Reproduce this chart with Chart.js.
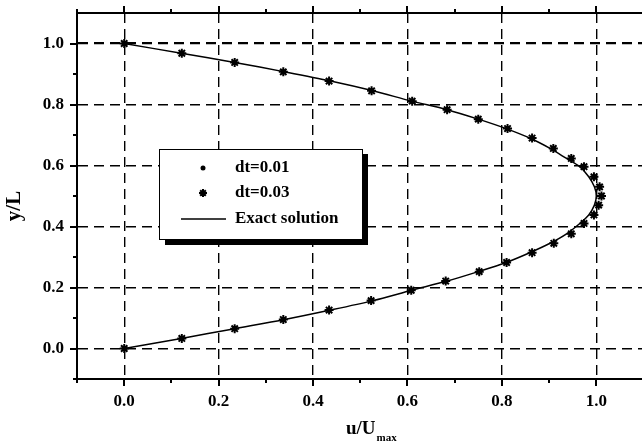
<!DOCTYPE html>
<html>
<head>
<meta charset="utf-8">
<script src="https://cdn.jsdelivr.net/npm/chart.js@4"></script>
<style>
  html, body { margin: 0; padding: 0; background: #fff; overflow: hidden; }
  #wrap { width: 650px; height: 442px; }
</style>
</head>
<body>
<div id="wrap"><canvas id="myChart" width="650" height="442"></canvas></div>
<script>
// values: y/L positions and u/Umax of the markers
const yPos = [0.0, 0.033, 0.065, 0.095, 0.126, 0.157, 0.191, 0.221, 0.252, 0.282,
  0.314, 0.345, 0.376, 0.41, 0.438, 0.47, 0.5, 0.53, 0.563, 0.596, 0.623, 0.656,
  0.69, 0.721, 0.752, 0.783, 0.811, 0.845, 0.877, 0.907, 0.938, 0.968, 1.0];
const uDt001 = [0.0, 0.122, 0.234, 0.337, 0.434, 0.523, 0.608, 0.681, 0.751, 0.81,
  0.864, 0.909, 0.946, 0.974, 0.995, 1.005, 1.01, 1.007, 0.995, 0.974, 0.947, 0.909,
  0.864, 0.812, 0.75, 0.684, 0.61, 0.524, 0.434, 0.337, 0.234, 0.122, 0.0];
const uDt003 = [0.0, 0.122, 0.234, 0.337, 0.434, 0.523, 0.608, 0.681, 0.752, 0.81,
  0.864, 0.91, 0.947, 0.974, 0.995, 1.005, 1.011, 1.007, 0.995, 0.974, 0.947, 0.909,
  0.864, 0.812, 0.75, 0.684, 0.61, 0.524, 0.434, 0.337, 0.234, 0.122, 0.0];
const uExact = [0.0, 0.121, 0.234, 0.34, 0.437, 0.527, 0.609, 0.684, 0.75, 0.809,
  0.859, 0.902, 0.937, 0.965, 0.984, 0.996, 1.0, 0.996, 0.984, 0.965, 0.937, 0.902,
  0.859, 0.809, 0.75, 0.684, 0.609, 0.527, 0.437, 0.34, 0.234, 0.121, 0.0];
const xTicks = [0.0, 0.2, 0.4, 0.6, 0.8, 1.0];
const yTicks = [0.0, 0.2, 0.4, 0.6, 0.8, 1.0];
const xMinor = [-0.1, 0.1, 0.3, 0.5, 0.7, 0.9, 1.1];
const yMinor = [-0.1, 0.1, 0.3, 0.5, 0.7, 0.9];
const seriesLabels = ["dt=0.01", "dt=0.03", "Exact solution"];

const serif = "'Liberation Serif', 'Times New Roman', serif";
const pts = (xs) => xs.map((u, i) => ({ x: u, y: yPos[i] }));

// tick marks, top frame line, legend box and axis titles
const extras = {
  id: "extras",
  afterDraw(chart) {
    const { ctx, chartArea: a, scales } = chart;
    const sx = scales.x, sy = scales.y;
    ctx.save();
    ctx.strokeStyle = "#000";
    ctx.fillStyle = "#000";

    // frame top
    ctx.lineWidth = 2;
    ctx.beginPath();
    ctx.moveTo(a.left - 1, a.top);
    ctx.lineTo(a.right, a.top);
    ctx.stroke();

    const tick = (v, len, axis) => {
      ctx.beginPath();
      if (axis === "x") {
        const px = Math.round(sx.getPixelForValue(v));
        ctx.moveTo(px, a.bottom); ctx.lineTo(px, a.bottom + len);
        ctx.moveTo(px, a.top); ctx.lineTo(px, a.top - len);
      } else {
        const py = Math.round(sy.getPixelForValue(v));
        ctx.moveTo(a.left, py); ctx.lineTo(a.left - len, py);
      }
      ctx.stroke();
    };
    ctx.lineWidth = 2;
    xTicks.forEach(v => tick(v, 7, "x"));
    yTicks.forEach(v => tick(v, 7, "y"));
    xMinor.forEach(v => tick(v, 4, "x"));
    yMinor.forEach(v => tick(v, 4, "y"));

    // legend
    const lx = 159, ly = 149, lw = 203, lh = 90;
    ctx.fillRect(lx + 6, ly + 5, lw, lh + 1);
    ctx.fillStyle = "#fff";
    ctx.fillRect(lx, ly, lw, lh);
    ctx.lineWidth = 1;
    ctx.strokeRect(lx + 0.5, ly + 0.5, lw, lh);
    ctx.fillStyle = "#000";
    Chart.helpers.drawPoint(ctx, { pointStyle: "circle", radius: 2.5, borderWidth: 0, rotation: 0 }, 203, 168);
    ctx.strokeStyle = "#000";
    ctx.lineWidth = 2;
    Chart.helpers.drawPoint(ctx, { pointStyle: "star", radius: 4, borderWidth: 2, rotation: 0 }, 203, 193);
    ctx.lineWidth = 1.5;
    ctx.beginPath();
    ctx.moveTo(181, 219); ctx.lineTo(226, 219);
    ctx.stroke();
    ctx.font = "bold 17px " + serif;
    ctx.textBaseline = "middle";
    ctx.textAlign = "left";
    ctx.fillText(seriesLabels[0], 235, 168);
    ctx.fillText(seriesLabels[1], 235, 193);
    ctx.fillText(seriesLabels[2], 235, 219);

    // x title with subscript
    ctx.textBaseline = "alphabetic";
    ctx.font = "bold 19px " + serif;
    ctx.fillText("u/U", 346, 434);
    const w = ctx.measureText("u/U").width;
    ctx.font = "bold 11px " + serif;
    ctx.fillText("max", 346 + w + 1, 441);

    // y title
    ctx.translate(15, 206);
    ctx.rotate(-Math.PI / 2);
    ctx.font = "bold 21px " + serif;
    ctx.textAlign = "center";
    ctx.textBaseline = "middle";
    ctx.fillText("y/L", 0, 0);
    ctx.restore();
  }
};

const ctx = document.getElementById("myChart").getContext("2d");
new Chart(ctx, {
  type: "scatter",
  data: {
    datasets: [
      {
        label: seriesLabels[2],
        data: pts(uExact),
        showLine: true,
        borderColor: "#000",
        borderWidth: 1.5,
        pointRadius: 0,
        tension: 0.3,
      },
      {
        label: seriesLabels[0],
        data: pts(uDt001),
        pointStyle: "circle",
        pointRadius: 2.5,
        backgroundColor: "#000",
        borderColor: "#000",
        borderWidth: 0,
      },
      {
        label: seriesLabels[1],
        data: pts(uDt003),
        pointStyle: "star",
        pointRadius: 4.5,
        borderColor: "#000",
        borderWidth: 2,
      },
    ],
  },
  options: {
    responsive: false,
    animation: false,
    devicePixelRatio: 1,
    layout: { padding: { top: 13, right: 5, left: 0, bottom: 0 } },
    plugins: { legend: { display: false }, tooltip: { enabled: false } },
    scales: {
      x: {
        min: -0.1,
        max: 1.1,
        afterBuildTicks: (s) => { s.ticks = xTicks.map(v => ({ value: v })); },
        afterFit: (s) => { s.height = 63; s.paddingLeft = 0; s.paddingRight = 0; },
        ticks: {
          padding: 12,
          color: "#000",
          font: { family: serif, size: 17, weight: "bold" },
          callback: (v) => Number(v).toFixed(1),
        },
        grid: {
          color: "#000",
          lineWidth: 1.4,
          drawTicks: false,
        },
        border: { display: true, color: "#000", width: 2, dash: [10, 6] },
      },
      y: {
        min: -0.1,
        max: 1.1,
        afterBuildTicks: (s) => { s.ticks = yTicks.map(v => ({ value: v })); },
        afterFit: (s) => { s.width = 77; s.paddingTop = 0; s.paddingBottom = 0; },
        ticks: {
          padding: 13,
          color: "#000",
          font: { family: serif, size: 17, weight: "bold" },
          callback: (v) => Number(v).toFixed(1),
        },
        grid: {
          color: "#000",
          lineWidth: (c) => (c.tick && c.tick.value === 1 ? 2.2 : 1.4),
          drawTicks: false,
        },
        border: { display: true, color: "#000", width: 2, dash: [10, 6] },
      },
    },
  },
  plugins: [extras],
});
</script>
</body>
</html>
